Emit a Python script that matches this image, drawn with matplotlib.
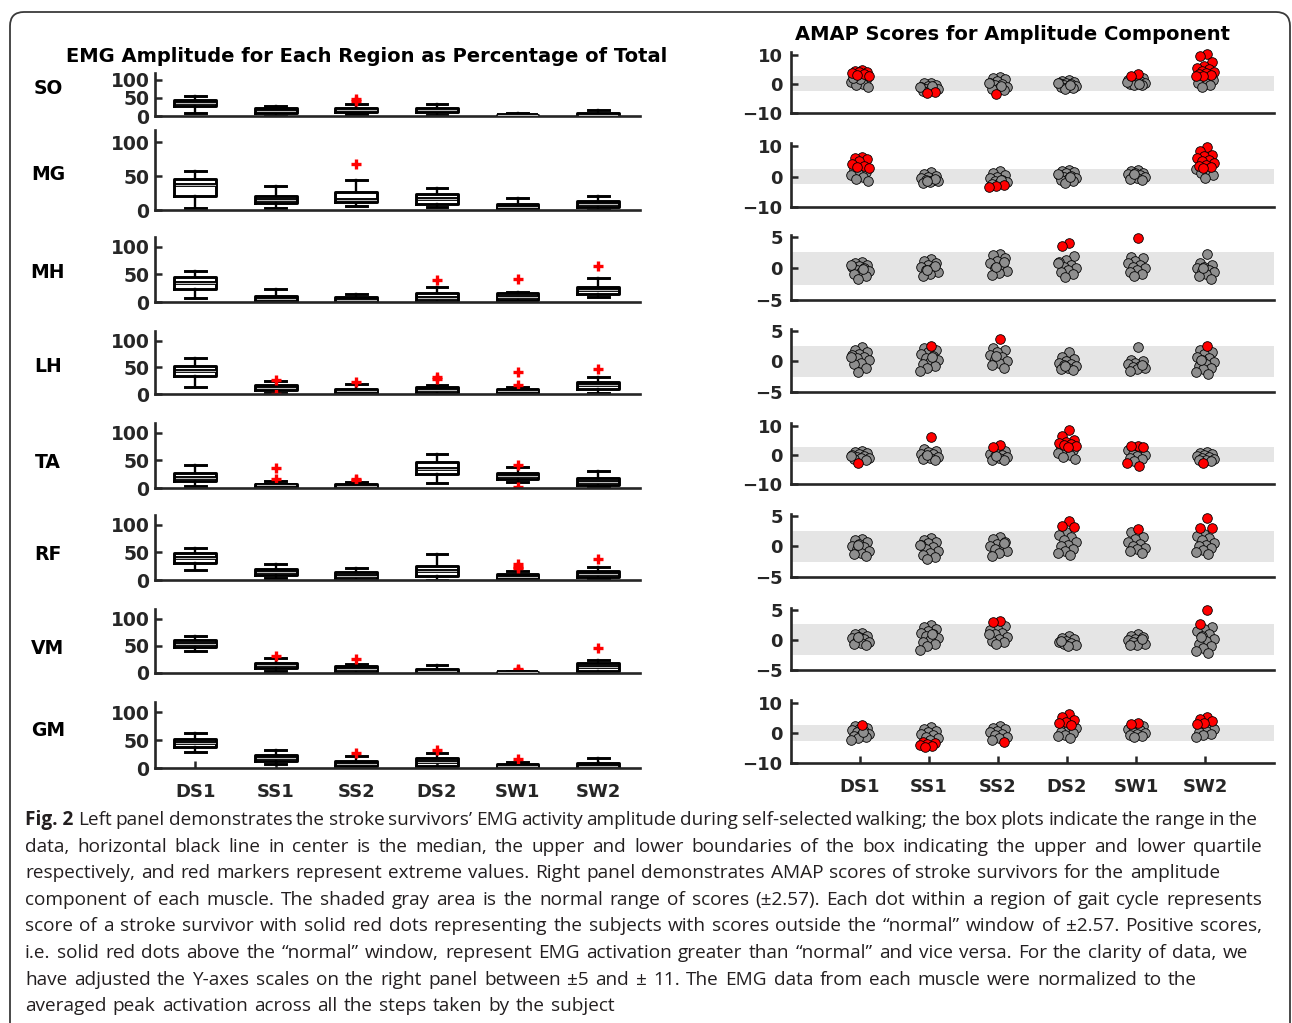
import matplotlib
matplotlib.use("Agg")
import matplotlib.pyplot as plt
import matplotlib.patches as mpatches
import numpy as np

W, H, DPI = 1292, 1023, 100

INK = "#262626"
BAND = "#e5e5e5"
DOT_GRAY = "#8e8e8e"
DOT_RED = "#ff0000"
CAPTION_INK = "#231f20"
NORMAL_LIMIT = 2.57

plt.rcParams["font.family"] = "DejaVu Sans"
plt.rcParams["font.weight"] = "bold"
plt.rcParams["text.color"] = INK

regions = ["DS1", "SS1", "SS2", "DS2", "SW1", "SW2"]
muscles = ["SO", "MG", "MH", "LH", "TA", "RF", "VM", "GM"]

# EMG amplitude per region (% of total): box-plot summaries, rows = muscles
box_lo = [
    [9, 1, 6, 4, 0, 0],
    [3, 3, 6, 4, 0, 0],
    [8, 0, 0, 0, 0, 9],
    [13, 1, 0, 0, 0, 1],
    [4, 0, 0, 9, 10, 1],
    [18, 3, 0, 0, 0, 1],
    [40, 3, 0, 0, 0, 0],
    [29, 7, 0, 0, 0, 0],
]
box_q1 = [
    [28, 8, 11, 10, 0.5, 1],
    [21, 10, 12, 9, 1, 4],
    [24, 1, 0.5, 2, 3, 14],
    [34, 8, 1, 1, 1, 10],
    [12, 1, 0.5, 25, 17, 5],
    [31, 9, 1, 7, 1, 5],
    [48, 9, 2, 0.5, 0, 4],
    [37, 12, 3, 4, 0.5, 0.5],
]
box_med = [
    [36, 15, 17, 17, 2, 4],
    [37, 15, 15, 16, 4, 9],
    [34, 5, 4, 8, 9, 21],
    [44, 12, 5, 7, 5, 16],
    [19, 5, 3, 35, 22, 11],
    [40, 15, 7, 16, 5, 11],
    [54, 15, 7, 3, 1, 11],
    [45, 18, 8, 10, 3, 4],
]
box_q3 = [
    [44, 22, 22, 22, 4, 8],
    [46, 21, 27, 23, 9, 14],
    [46, 11, 9, 16, 16, 28],
    [53, 17, 10, 13, 9, 22],
    [27, 8, 7, 47, 28, 18],
    [49, 20, 14, 26, 10, 17],
    [60, 19, 12, 8, 2, 18],
    [52, 24, 13, 17, 7, 9],
]
box_hi = [
    [54, 27, 33, 34, 8, 16],
    [58, 36, 44, 33, 18, 21],
    [57, 23, 14, 28, 19, 43],
    [68, 24, 18, 17, 13, 31],
    [41, 13, 10, 62, 39, 30],
    [59, 29, 22, 47, 17, 23],
    [69, 28, 17, 14, 3, 24],
    [62, 33, 21, 27, 11, 17],
]
box_out = [
    [[], [], [42, 46], [], [], []],
    [[], [], [68], [], [], []],
    [[], [], [], [40], [42], [65]],
    [[], [27, 0], [23], [28, 31], [41, 17], [47]],
    [[], [36, 17], [14, 17], [], [42, 1], []],
    [[], [], [], [], [29, 24, 21], [39]],
    [[], [31], [25], [], [5, 7, 3], [46]],
    [[], [], [27], [33], [16], []],
]

# AMAP amplitude scores, one list per gait region
amap_SO = [
    [4.8, 4.5, 4.2, 4.0, 3.8, 3.5, 3.2, 2.9, 2.4, 2.0, 1.5, 1.0, 0.6, 0.0, -0.5, -1.2, 1.8, 2.2],
    [0.5, 0.2, -0.3, -0.8, -1.0, -1.3, -1.6, -1.9, -2.1, -2.4, -2.7, -3.0, -1.2, -0.6],
    [2.5, 2.2, 1.7, 1.0, 0.5, 0.0, -0.4, -0.9, -1.3, -1.8, -2.2, -3.3, 0.3, -0.6],
    [1.5, 1.1, 0.8, 0.5, 0.2, 0.0, -0.3, -0.6, -0.9, -1.2, -1.5, -1.8, 0.4, -0.4],
    [3.5, 2.8, 2.2, 1.5, 1.2, 0.9, 0.6, 0.4, 0.2, 0.0, -0.2, -0.4, 0.8, 0.1],
    [10.3, 9.6, 7.6, 6.2, 5.5, 5.0, 4.6, 4.2, 3.8, 3.5, 3.2, 2.9, 2.7, 2.3, 1.8, 1.2, 0.8, 0.3, -0.5, -1.0],
]
amap_MG = [
    [6.4, 6.1, 5.8, 5.0, 4.2, 3.6, 3.2, 2.9, 2.4, 2.0, 1.5, 1.0, 0.5, 0.0, -0.8, -1.6],
    [1.5, 0.8, 0.3, -0.2, -0.6, -1.0, -1.3, -1.6, -1.9, -2.2, -0.9, -1.5],
    [1.7, 1.2, 0.5, 0.0, -0.5, -1.0, -1.4, -1.8, -2.2, -2.5, -2.9, -3.1, -3.3, -1.2],
    [2.2, 1.8, 1.4, 1.0, 0.6, 0.3, 0.0, -0.4, -0.8, -1.2, -1.6, -2.0, 0.9, -0.2],
    [2.3, 1.8, 1.3, 1.0, 0.7, 0.4, 0.1, -0.2, -0.5, -0.8, -1.0, 0.9],
    [9.6, 8.3, 7.2, 6.8, 6.2, 5.5, 5.0, 4.3, 3.9, 3.5, 3.0, 2.8, 2.4, 1.8, 1.2, 0.5, -0.6],
]
amap_MH = [
    [1.0, 0.8, 0.6, 0.4, 0.2, 0.0, -0.2, -0.4, -0.6, -0.9, -1.2, -1.7, 0.5, -0.1],
    [1.5, 1.2, 0.9, 0.6, 0.3, 0.0, -0.3, -0.6, -0.9, -1.2, 0.4, -0.2],
    [2.3, 2.1, 1.7, 1.2, 0.8, 0.4, 0.0, -0.4, -0.8, -1.0, 1.0, 0.2],
    [4.0, 3.5, 1.9, 1.4, 1.0, 0.6, 0.3, 0.0, -0.3, -0.6, -0.9, -1.3, 0.8],
    [4.9, 1.8, 1.6, 1.2, 0.8, 0.5, 0.2, 0.0, -0.3, -0.6, -0.9, -1.2],
    [2.3, 0.8, 0.5, 0.3, 0.0, -0.2, -0.4, -0.6, -0.9, -1.2, -1.6, 0.1],
]
amap_LH = [
    [2.3, 1.8, 1.5, 1.2, 1.0, 0.8, 0.5, 0.2, -0.2, -0.5, -1.0, -1.8, 0.7],
    [2.6, 2.2, 1.9, 1.5, 1.2, 0.9, 0.5, 0.2, -0.1, -0.4, -0.8, -1.1, -1.5, 0.7],
    [3.6, 2.2, 1.8, 1.5, 1.1, 0.8, 0.4, 0.1, -0.2, -0.6, -1.0, 0.9],
    [1.5, 0.7, 0.4, 0.1, -0.2, -0.4, -0.6, -0.8, -1.0, -1.2, -1.4, -0.7],
    [2.3, 0.3, 0.0, -0.3, -0.5, -0.7, -0.9, -1.1, -1.3, -1.5, -0.6],
    [2.6, 1.8, 1.6, 1.2, 0.8, 0.5, 0.2, -0.1, -0.4, -0.7, -1.0, -1.3, -1.8, -2.1, 0.3],
]
amap_TA = [
    [1.5, 1.1, 0.7, 0.3, 0.0, -0.3, -0.6, -0.9, -1.2, -1.5, -1.9, -2.8, -0.5],
    [6.2, 2.2, 1.5, 1.0, 0.5, 0.2, -0.2, -0.6, -1.0, -1.4, -1.8, 0.0],
    [3.3, 2.9, 1.3, 0.8, 0.3, 0.0, -0.4, -0.8, -1.2, -1.6, -1.8, -0.2],
    [8.7, 6.5, 5.3, 4.6, 4.2, 3.8, 3.5, 3.2, 2.8, 2.3, 1.8, 1.2, 0.6, 0.0, -0.8, -1.5],
    [3.2, 3.0, 2.8, 2.2, 1.6, 1.0, 0.5, 0.0, -0.5, -1.0, -1.5, -2.0, -2.8, -3.9],
    [1.0, 0.6, 0.2, -0.1, -0.4, -0.7, -1.0, -1.3, -1.6, -1.9, -2.2, -2.8],
]
amap_RF = [
    [1.2, 1.0, 0.7, 0.4, 0.1, -0.1, -0.4, -0.7, -1.0, -1.3, -1.6, 0.3],
    [1.4, 1.1, 0.8, 0.5, 0.2, -0.1, -0.4, -0.7, -1.0, -1.4, -1.7, -2.0, 0.3],
    [1.6, 1.2, 0.8, 0.4, 0.1, -0.2, -0.5, -0.8, -1.1, -1.5, 0.6],
    [4.1, 3.4, 3.1, 2.3, 1.9, 1.5, 1.1, 0.7, 0.3, 0.0, -0.4, -0.8, -1.1, -1.4],
    [2.9, 2.4, 1.6, 1.2, 0.8, 0.4, 0.1, -0.2, -0.5, -0.8, -1.0],
    [4.6, 3.0, 3.0, 2.0, 1.7, 1.3, 1.0, 0.6, 0.3, 0.0, -0.3, -0.6, -0.9, -1.2],
]
amap_VM = [
    [1.1, 0.9, 0.7, 0.5, 0.3, 0.1, -0.1, -0.3, -0.5, -0.7, -0.9, 0.4],
    [2.5, 2.2, 1.8, 1.5, 1.2, 0.9, 0.6, 0.3, 0.0, -0.3, -0.6, -1.0, -1.7, 1.0],
    [3.2, 3.0, 2.3, 2.0, 1.6, 1.2, 0.9, 0.5, 0.2, -0.1, -0.4, -0.7, 1.0],
    [0.6, 0.3, 0.1, -0.1, -0.3, -0.5, -0.7, -0.9, -1.0, -0.2],
    [0.9, 0.6, 0.4, 0.2, 0.0, -0.2, -0.4, -0.6, -0.8, -0.9, 0.1],
    [4.9, 2.7, 2.2, 1.8, 1.4, 1.0, 0.6, 0.2, -0.2, -0.6, -1.0, -1.4, -1.8, -2.2, 0.4],
]
amap_GM = [
    [2.6, 2.2, 1.8, 1.4, 1.0, 0.6, 0.2, -0.2, -0.6, -1.0, -1.4, -1.8, -2.4, 0.4],
    [2.0, 1.4, 0.8, 0.3, -0.2, -0.7, -1.2, -1.7, -2.2, -2.9, -3.2, -3.6, -4.0, -4.4, -4.6],
    [2.3, 1.8, 1.2, 0.7, 0.2, -0.3, -0.8, -1.3, -1.8, -2.2, -3.0],
    [6.5, 5.2, 4.5, 3.8, 3.2, 2.8, 2.2, 1.6, 1.0, 0.4, -0.1, -0.6, -1.1, -1.6],
    [3.5, 3.1, 2.3, 1.8, 1.3, 0.9, 0.5, 0.1, -0.3, -0.7, -1.1, -1.4],
    [5.4, 4.7, 4.0, 3.4, 3.0, 2.2, 1.7, 1.2, 0.7, 0.2, -0.3, -0.8, -1.3],
]
amap_scores = [amap_SO, amap_MG, amap_MH, amap_LH, amap_TA, amap_RF, amap_VM, amap_GM]
amap_limit = [10, 10, 5, 5, 10, 5, 5, 10]

caption_lines = [
    "Left panel demonstrates the stroke survivors\u2019 EMG activity amplitude during self-selected walking; the box plots indicate the range in the",
    "data, horizontal black line in center is the median, the upper and lower boundaries of the box indicating the upper and lower quartile",
    "respectively, and red markers represent extreme values. Right panel demonstrates AMAP scores of stroke survivors for the amplitude",
    "component of each muscle. The shaded gray area is the normal range of scores (\u00b12.57). Each dot within a region of gait cycle represents",
    "score of a stroke survivor with solid red dots representing the subjects with scores outside the \u201cnormal\u201d window of \u00b12.57. Positive scores,",
    "i.e. solid red dots above the \u201cnormal\u201d window, represent EMG activation greater than \u201cnormal\u201d and vice versa. For the clarity of data, we",
    "have adjusted the Y-axes scales on the right panel between \u00b15 and \u00b1 11. The EMG data from each muscle were normalized to the",
    "averaged peak activation across all the steps taken by the subject",
]
# right edge (px) each caption line is set out to
CAPTION_RIGHT = [1258, 1262, 1220, 1262, 1262, 1248, 1197, 615]

# ---- layout in pixels (top, bottom of each row of axes)
LEFT_X = (155, 640)
LEFT_ROWS = [(73, 116), (130, 210), (237, 302), (331, 394), (423, 488),
             (515, 580), (609, 673), (702, 768)]
LABEL_Y = [88, 175, 273, 367, 463, 555, 648, 730]
RIGHT_X = (791, 1274)
RIGHT_ROWS = [(52, 113), (143, 207), (235, 300), (329, 392), (423, 484),
              (514, 577), (608, 670), (700, 763)]

fig = plt.figure(figsize=(W / DPI, H / DPI), dpi=DPI, facecolor="white")


def px_axes(x0, x1, top, bottom):
    return fig.add_axes([x0 / W, 1 - bottom / H, (x1 - x0) / W, (bottom - top) / H])


def style_axes(ax, labelsize):
    for side in ("top", "right"):
        ax.spines[side].set_visible(False)
    for side in ("left", "bottom"):
        ax.spines[side].set_linewidth(1.9)
        ax.spines[side].set_color(INK)
    ax.tick_params(direction="in", length=5, width=1.8, color=INK,
                   labelcolor=INK, labelsize=labelsize, pad=4)


pos = np.arange(1, len(regions) + 1)

# ---- left panel: box plots
for i, m in enumerate(muscles):
    ax = px_axes(LEFT_X[0], LEFT_X[1], *LEFT_ROWS[i])
    stats = []
    for j in range(len(regions)):
        stats.append(dict(whislo=box_lo[i][j], q1=box_q1[i][j], med=box_med[i][j],
                          q3=box_q3[i][j], whishi=box_hi[i][j],
                          fliers=box_out[i][j]))
    ax.bxp(stats, positions=pos, widths=0.52, capwidths=0.26, manage_ticks=False,
           boxprops=dict(color="black", linewidth=2.1),
           whiskerprops=dict(color="black", linewidth=1.7, linestyle="-"),
           capprops=dict(color="black", linewidth=2.1),
           medianprops=dict(color="black", linewidth=2.8),
           flierprops=dict(marker="+", markersize=7, markeredgewidth=2.4,
                           markeredgecolor=DOT_RED, linestyle="none"))
    # light core on the median lines
    for j in range(len(regions)):
        ax.plot([pos[j] - 0.24, pos[j] + 0.24], [box_med[i][j]] * 2,
                color="#b8b8b8", linewidth=0.8, zorder=4)
    ax.set_xlim(0.5, 6.52)
    ax.set_ylim(0, 118)
    ax.set_yticks([0, 50, 100])
    style_axes(ax, 13.5)
    if i == len(muscles) - 1:
        ax.set_xticks(pos)
        ax.set_xticklabels(regions, fontsize=13, fontweight="bold")
        ax.tick_params(axis="x", pad=11)
    else:
        ax.set_xticks([])
    fig.text(48 / W, 1 - LABEL_Y[i] / H, m, ha="center", va="center",
             fontsize=13.5, fontweight="bold", color="black")

fig.text(367 / W, 1 - 57 / H, "EMG Amplitude for Each Region as Percentage of Total",
         ha="center", va="center", fontsize=14, fontweight="bold", color="black")

# ---- right panel: AMAP scores
golden = 0.6180339887
for i, m in enumerate(muscles):
    ax = px_axes(RIGHT_X[0], RIGHT_X[1], *RIGHT_ROWS[i])
    lim = amap_limit[i]
    ax.axhspan(-NORMAL_LIMIT, NORMAL_LIMIT, color=BAND, linewidth=0, zorder=0)
    for j in range(len(regions)):
        vals = np.asarray(amap_scores[i][j], dtype=float)
        jitter = 0.28 * (((np.arange(len(vals)) + 1) * golden) % 1.0 - 0.5)
        xs = pos[j] + jitter
        out = np.abs(vals) > NORMAL_LIMIT
        ax.scatter(xs[~out], vals[~out], s=48, facecolor=DOT_GRAY,
                   edgecolor="black", linewidth=0.6, zorder=3, clip_on=False)
        ax.scatter(xs[out], vals[out], s=48, facecolor=DOT_RED,
                   edgecolor="black", linewidth=0.6, zorder=4, clip_on=False)
    ax.set_xlim(0, 7)
    ax.set_ylim(-lim, lim * 1.06 if lim == 5 else 11)
    ax.set_yticks([-lim, 0, lim])
    style_axes(ax, 13)
    ax.tick_params(axis="y", pad=6)
    if i == len(muscles) - 1:
        ax.set_xticks(pos)
        ax.set_xticklabels(regions, fontsize=13, fontweight="bold")
        ax.tick_params(axis="x", pad=11)
    else:
        ax.set_xticks([])

fig.text(1012 / W, 1 - 35 / H, "AMAP Scores for Amplitude Component",
         ha="center", va="center", fontsize=14, fontweight="bold", color="black")

# ---- rounded frame around the figure area
frame = mpatches.FancyBboxPatch((10, -40), 1280, 1011 + 40,
                                boxstyle="round,pad=0,rounding_size=14",
                                transform=None, facecolor="none",
                                edgecolor="#3a3a3a", linewidth=1.3)
fig.patches.append(frame)

# ---- caption, word by word so each line spans its measure
CAP_FONT = "Open Sans"
CAP_SIZE = 13.7
fig.canvas.draw()
renderer = fig.canvas.get_renderer()


def set_line(words, x0, x1, y):
    texts = [fig.text(0, y, w, ha="left", va="center", family=CAP_FONT,
                      fontsize=CAP_SIZE, fontweight="normal", color=CAPTION_INK)
             for w in words]
    widths = [t.get_window_extent(renderer=renderer).width for t in texts]
    gap = (x1 - x0 - sum(widths)) / max(len(words) - 1, 1)
    x = x0
    for t, w in zip(texts, widths):
        t.set_x(x / W)
        x += w + gap


for k, line in enumerate(caption_lines):
    y = 1 - (820 + 26.6 * k) / H
    x = 25
    if k == 0:
        t = fig.text(x / W, y, "Fig. 2", ha="left", va="center", family=CAP_FONT,
                     fontsize=CAP_SIZE, fontweight="bold", color=CAPTION_INK)
        x = t.get_window_extent(renderer=renderer).x1 + 5
    set_line(line.split(" "), x, CAPTION_RIGHT[k], y)

fig.savefig("out.png", dpi=DPI, facecolor="white")
